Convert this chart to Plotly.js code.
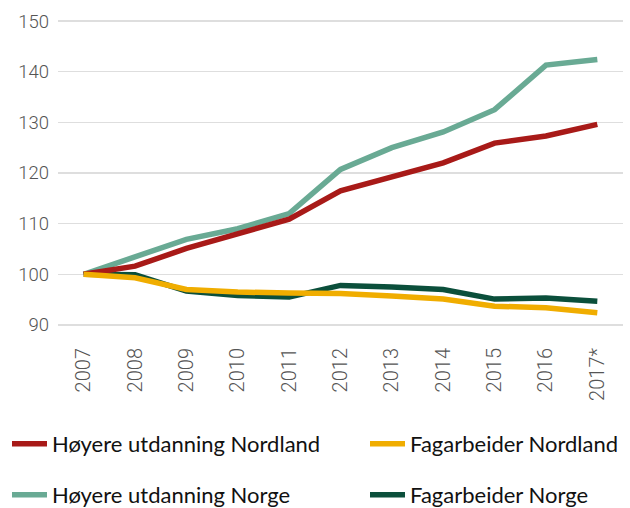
<!DOCTYPE html>
<html>
<head>
<meta charset="utf-8">
<script src="https://cdn.plot.ly/plotly-3.0.1.min.js"></script>
<style>html,body{margin:0;padding:0;background:#fff;}#chart{width:630px;height:508px;}</style>
</head>
<body>
<div id="chart"></div>
<script>
const years = ["2007","2008","2009","2010","2011","2012","2013","2014","2015","2016","2017*"];
const hoyereNordland = [100, 101.6, 105.1, 108.0, 110.9, 116.5, 119.2, 122.0, 125.9, 127.3, 129.6];
const fagNordland    = [100, 99.3, 97.0, 96.5, 96.3, 96.2, 95.7, 95.1, 93.7, 93.4, 92.4];
const hoyereNorge    = [100, 103.4, 106.9, 109.0, 112.0, 120.7, 125.0, 128.1, 132.5, 141.3, 142.4];
const fagNorge       = [100, 99.9, 96.7, 95.8, 95.5, 97.8, 97.5, 97.0, 95.1, 95.3, 94.7];
const yTicks = [90, 100, 110, 120, 130, 140, 150];

const mk = (y, name, color, legend) => ({
  x: years, y: y, name: name, type: 'scatter', mode: 'lines',
  line: {color: color, width: 5.5},
  legend: legend, hoverinfo: 'skip'
});

const data = [
  mk(hoyereNorge, 'Høyere utdanning Norge', '#69aa94', 'legend3'),
  mk(fagNorge, 'Fagarbeider Norge', '#0b4f3b', 'legend4'),
  mk(hoyereNordland, 'Høyere utdanning Nordland', '#a81a18', 'legend'),
  mk(fagNordland, 'Fagarbeider Nordland', '#f0ad00', 'legend2')
];

const legFont = {family: 'Lato, sans-serif', size: 22, color: '#111'};
const leg = (xpx, ypx) => ({
  orientation: 'h', xref: 'container', yref: 'container',
  x: xpx / 630, xanchor: 'left', y: 1 - ypx / 508, yanchor: 'middle',
  itemwidth: 35,
  font: legFont, bgcolor: 'rgba(0,0,0,0)', borderwidth: 0
});

const layout = {
  width: 630, height: 508,
  margin: {l: 58, r: 7, t: 16, b: 178},
  paper_bgcolor: '#fff', plot_bgcolor: '#fff',
  showlegend: true,
  xaxis: {
    type: 'category', range: [-0.5, 10.5], tickangle: -90,
    showgrid: false, zeroline: false, showline: false, ticks: '',
    tickfont: {family: 'Roboto, sans-serif', weight: 300, size: 20, color: '#555'},
    ticklabelstandoff: 13, fixedrange: true
  },
  yaxis: {
    range: [89, 151], tickvals: yTicks, ticktext: yTicks.map(String),
    showgrid: true, gridcolor: '#dedede', gridwidth: 1.5,
    zeroline: false, showline: false, ticks: '',
    tickfont: {family: 'Roboto, sans-serif', weight: 300, size: 18.5, color: '#555'},
    ticklabelstandoff: 8, fixedrange: true
  },
  legend: leg(7, 444),
  legend2: leg(365, 444),
  legend3: leg(7, 495),
  legend4: leg(365, 495)
};

Plotly.newPlot('chart', data, layout, {displayModeBar: false, staticPlot: true});
</script>
</body>
</html>
